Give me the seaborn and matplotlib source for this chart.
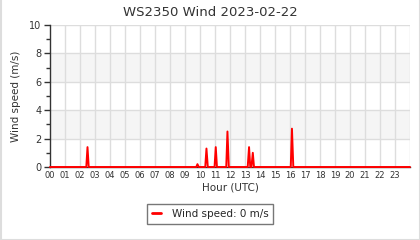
import matplotlib
matplotlib.use("Agg")
import matplotlib.pyplot as plt
import seaborn as sns
import pandas as pd
from matplotlib.lines import Line2D

title = "WS2350 Wind 2023-02-22"
hours = [0.0, 2.42, 2.5, 2.58, 9.75, 9.83, 9.92, 10.35, 10.43, 10.52,
         10.97, 11.05, 11.13, 11.75, 11.83, 11.92, 13.18, 13.27, 13.35,
         13.43, 13.52, 13.6, 16.05, 16.13, 16.22, 24.0]
speeds = [0, 0, 1.4, 0, 0, 0.2, 0, 0, 1.3, 0,
          0, 1.4, 0, 0, 2.5, 0, 0, 1.4, 0,
          0, 1.0, 0, 0, 2.7, 0, 0]
hour_labels = [f"{h:02d}" for h in range(24)]
legend_label = "Wind speed: 0 m/s"

sns.set_style("white")
plt.rcParams['font.family'] = ['DejaVu Sans']

df = pd.DataFrame({"hour": hours, "speed": speeds})

fig = plt.figure(figsize=(4.2, 2.4), dpi=100)
ax = fig.add_axes([50/420, 1-167/240, 360/420, 142/240])

# alternating bands
for lo in (2, 6):
    ax.axhspan(lo, lo + 2, color="#f5f5f5", zorder=0, lw=0)
for y in (2, 4, 6, 8, 10):
    ax.axhline(y, color="#dddddd", lw=1, zorder=1)
for h in range(1, 25):
    ax.axvline(h, color="#dddddd", lw=1, zorder=1)

sns.lineplot(data=df, x="hour", y="speed", ax=ax, color="#ff0000", lw=1.4,
             zorder=3, clip_on=False)

ax.set_xlim(0, 24)
ax.set_ylim(0, 10)
ax.set_xticks(range(24))
ax.set_xticklabels(hour_labels, fontsize=6, color="#333333")
ax.set_yticks([0, 2, 4, 6, 8, 10])
ax.set_yticks([1, 3, 5, 7, 9], minor=True)
ax.tick_params(axis="y", which="major", length=4, width=1, color="#333333",
               labelsize=7, labelcolor="#333333", pad=2, left=True)
ax.tick_params(axis="y", which="minor", length=3, width=1, color="#333333", left=True)
ax.tick_params(axis="x", length=0, pad=3)
ax.set_xlabel("Hour (UTC)", fontsize=7.5, color="#333333", labelpad=2)
ax.set_ylabel("Wind speed (m/s)", fontsize=7.5, color="#333333", labelpad=6)

for s in ("top", "right"):
    ax.spines[s].set_visible(False)
ax.spines["left"].set_color("#333333")
ax.spines["bottom"].set_color("#333333")
ax.spines["left"].set_linewidth(1)
ax.spines["bottom"].set_linewidth(1)

fig.text(210/420, 1-12/240, title, ha="center", va="center", fontsize=9.5,
         color="#333333")

handle = Line2D([], [], color="#ff0000", lw=2)
if ax.get_legend():
    ax.get_legend().remove()
fig.legend([handle], [legend_label], loc="center", bbox_to_anchor=(210/420, 1-214/240),
           fontsize=7.5, frameon=True, fancybox=False, edgecolor="#777777",
           handlelength=0.9, handletextpad=1.0, borderpad=0.5, framealpha=1)

# figure border
for xs, ys in (([0.5/420, 0.5/420], [0, 1]), ([419.5/420, 419.5/420], [0, 1]),
               ([0, 1], [0.5/240, 0.5/240])):
    fig.add_artist(Line2D(xs, ys, color="#dddddd", lw=1.5, transform=fig.transFigure))

fig.savefig("out.png", dpi=100)
